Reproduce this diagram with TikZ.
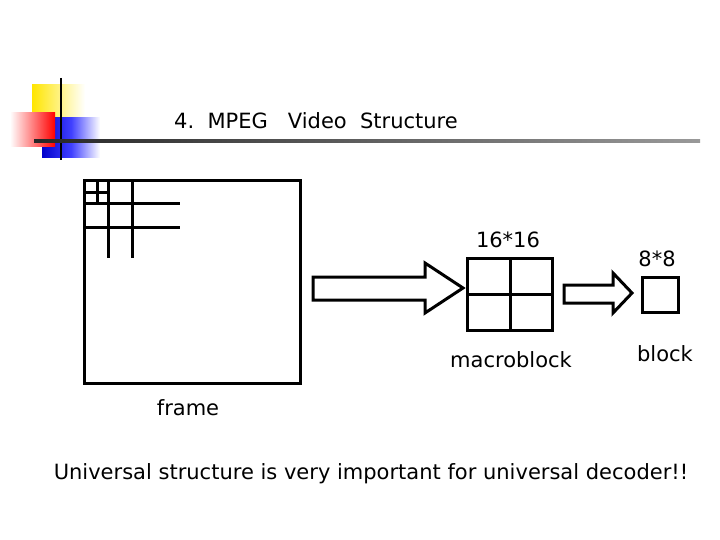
\documentclass[tikz,border=0pt]{standalone}
\usepackage{fontspec}
\setmainfont{DejaVu Sans}
\begin{document}
\begin{tikzpicture}[x=1pt,y=-1pt,
  thick line/.style={line width=3pt},
  lbl/.style={font=\fontsize{21}{25}\selectfont, inner sep=0pt}]
\useasboundingbox (0,0) rectangle (720,540);
% decoration
\fill[left color=yellow!80!orange, right color=white] (32,85) rectangle (85,120);
\fill[left color=blue!80!black, right color=white, middle color=blue!75] (42,118) rectangle (100,158);
\fill[left color=white, right color=red] (10,113) rectangle (55,147);
\draw[line width=2.5pt] (61,78) -- (61,160);
\shade[left color=black!85, right color=black!40] (34,139.8) rectangle (700,142.2);
\node[lbl, anchor=west] (title) at (174,121) {4.\ \ MPEG\ \ \ Video\ \ Structure};
% frame
\draw[thick line] (84,181) rectangle (300,383);
\draw[thick line] (108,181) -- (108,258) (132,181) -- (132,258)
  (84,204) -- (180,204) (84,228) -- (180,228)
  (97,181) -- (97,204) (84,193) -- (108,193);
\node[lbl] (frame) at (188,408) {frame};
% arrow 1
\draw[thick line, line join=miter] (313,277) -- (425,277) -- (425,263) -- (463,288) -- (425,313) -- (425,300) -- (313,300) -- cycle;
% macroblock
\draw[thick line] (467,258) rectangle (552,330);
\draw[thick line] (510,258) -- (510,330) (467,294) -- (552,294);
\node[lbl] (mb16) at (508,240) {16*16};
\node[lbl] (mb) at (511,360) {macroblock};
% arrow 2
\draw[thick line, line join=miter] (564,285) -- (613,285) -- (613,273) -- (632,293) -- (613,313) -- (613,303) -- (564,303) -- cycle;
% block
\draw[thick line] (642,277) rectangle (678,312);
\node[lbl] (b8) at (657,259) {8*8};
\node[lbl] (b) at (665,354) {block};
\node[lbl] (univ) at (371,474) {Universal structure is very important for universal decoder!!};
\end{tikzpicture}
\end{document}
